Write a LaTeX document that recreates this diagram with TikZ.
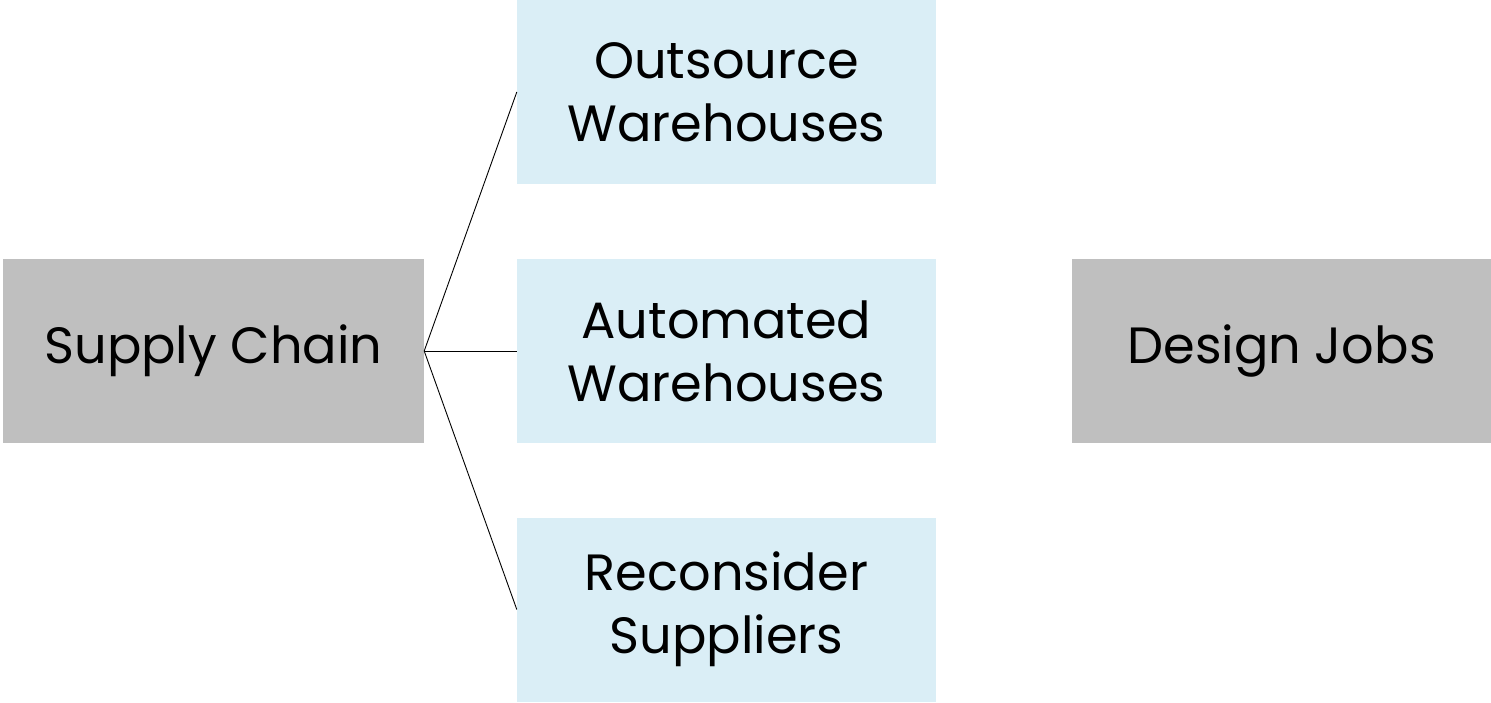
\documentclass[tikz,border=0pt]{standalone}
\usepackage{fontspec}
\setmainfont{Poppins}
\usetikzlibrary{positioning}

\definecolor{boxgray}{HTML}{BFBFBF}
\definecolor{boxblue}{HTML}{DAEEF6}

\tikzset{
  mainbox/.style={fill=boxgray, minimum width=421pt, minimum height=184pt, inner sep=0pt, align=center, font=\fontsize{51}{63}\selectfont},
  subbox/.style={fill=boxblue, minimum width=419pt, minimum height=184pt, inner sep=0pt, align=center, font=\fontsize{51}{63}\selectfont}
}

\begin{document}
\begin{tikzpicture}[x=1pt, y=1pt]
\useasboundingbox (0,0) rectangle (1491,702);

% Main boxes
\node[mainbox] (supply) at (213.5,351) {Supply Chain};
\node[mainbox, minimum width=419pt] (design) at (1281.5,351) {Design Jobs};

% Branch boxes
\node[subbox] (outsource) at (726.5,610) {Outsource\\Warehouses};
\node[subbox] (automated) at (726.5,351) {Automated\\Warehouses};
\node[subbox] (reconsider) at (726.5,92.5) {Reconsider\\Suppliers};

% Branch lines
\draw[line width=0.9pt] (supply.east) -- (outsource.west);
\draw[line width=0.9pt] (supply.east) -- (automated.west);
\draw[line width=0.9pt] (supply.east) -- (reconsider.west);

\end{tikzpicture}
\end{document}
